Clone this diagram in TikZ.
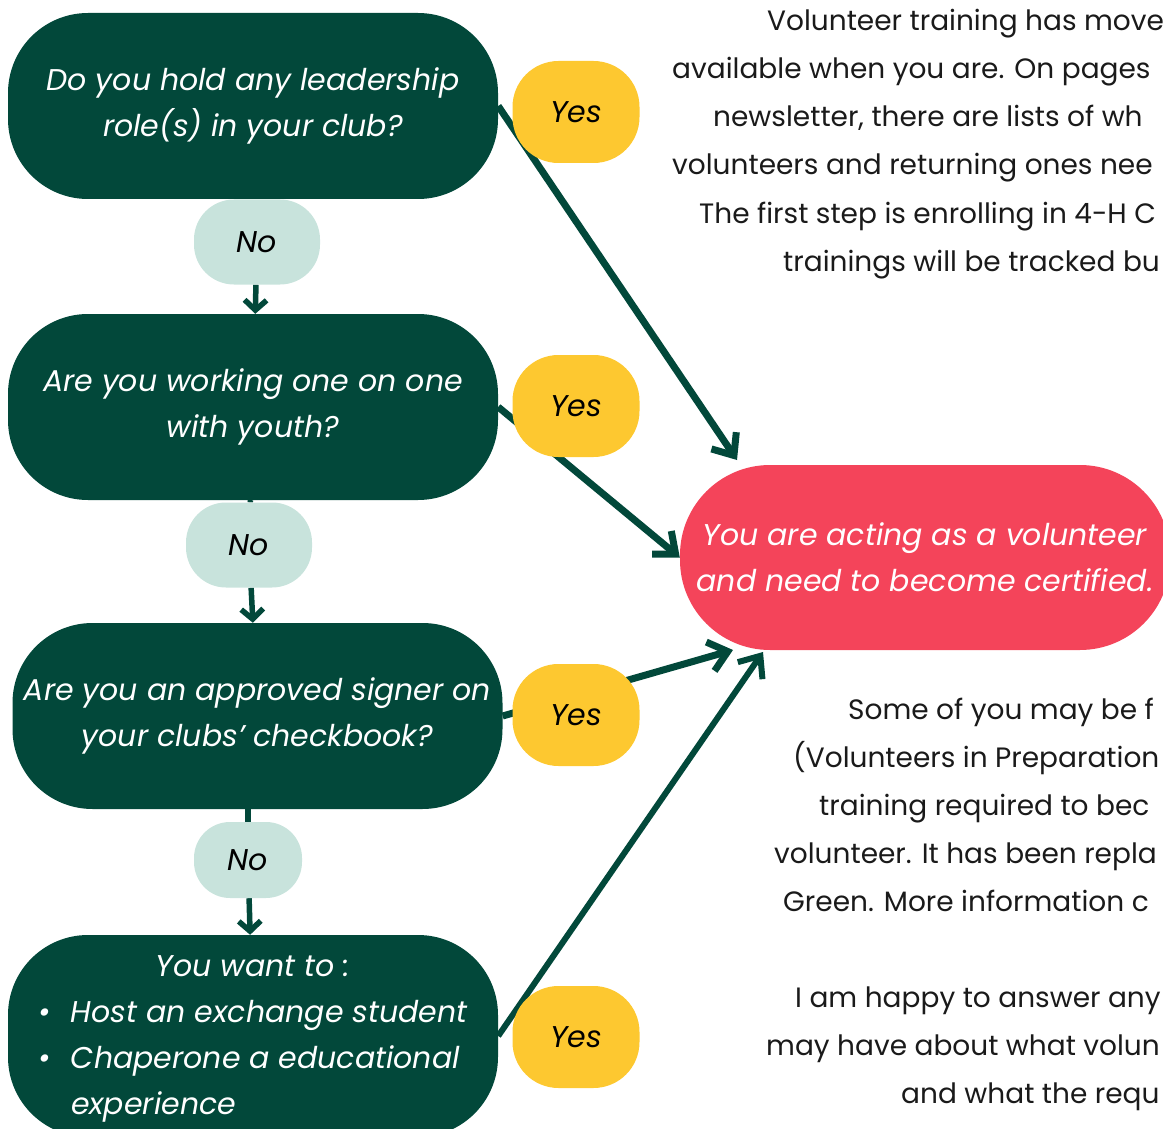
\documentclass[tikz,border=0pt]{standalone}
\usepackage{fontspec}
\setmainfont{Poppins}
\usetikzlibrary{positioning,arrows.meta,backgrounds}
\definecolor{forest}{HTML}{02483A}
\definecolor{sun}{HTML}{FDC830}
\definecolor{mint}{HTML}{C8E3DC}
\definecolor{coral}{HTML}{F4445A}
\definecolor{ink}{HTML}{1A1A1A}

\begin{document}
\begin{tikzpicture}[x=1pt,y=-1pt]
        \tikzstyle{every node}=[font=\fontsize{30}{46}\selectfont\itshape, inner sep=0pt]
        \tikzstyle{question}=[fill=forest, text=white, rounded corners=80pt, minimum width=490pt, minimum height=186pt, align=center]
        \tikzstyle{yes}=[fill=sun, text=black, rounded corners=46pt, minimum width=127pt, minimum height=102pt]
        \tikzstyle{no}=[fill=mint, text=black, rounded corners=40pt, minimum width=126pt, minimum height=85pt]
        \tikzstyle{result}=[fill=coral, text=white, rounded corners=90pt, minimum width=490pt, minimum height=185pt, align=center]
        \tikzstyle{body}=[font=\fontsize{28}{48}\selectfont, text=ink, anchor=base west]
        \tikzstyle{link}=[draw=forest, line width=7pt, -{Straight Barb[length=18pt,width=30pt]}]
        \tikzstyle{down}=[draw=forest, line width=5.5pt, -{Straight Barb[length=10pt,width=22pt]}]

        \useasboundingbox (0,0) rectangle (1163,1129);
        \clip (0,0) rectangle (1163,1129);

        % questions
        \node[question] (q1) at (253,106) {Do you hold any leadership\\role(s) in your club?};
        \node[question] (q2) at (253,407) {Are you working one on one\\with youth?};
        \node[question] (q3) at (257.5,716) {Are you an approved signer on\\your clubs’ checkbook?};
        \node[question, minimum height=202pt] (q4) at (253,1036) {\begin{tabular}{@{}l@{\hspace{20pt}}l@{}}
            \multicolumn{2}{c}{You want to :}\\
            \textbullet & Host an exchange student\\
            \textbullet & Chaperone a educational\\
                        & experience
          \end{tabular}};

        % answers
        \node[no] (no1) at (257,242) {No};
        \node[no] (no2) at (249,545) {No};
        \node[no, minimum width=108pt, minimum height=76pt, rounded corners=36pt] (no3) at (248,860) {No};
        \node[yes] (yes1) at (576,112) {Yes};
        \node[yes] (yes2) at (576,406) {Yes};
        \node[yes] (yes3) at (576,715) {Yes};
        \node[yes] (yes4) at (576,1037) {Yes};

        \node[result] (res) at (925,557.5) {You are acting as a volunteer\\and need to become certified.};

        % text on the right
        \foreach \n/\px/\py/\t in {1/767/31/{Volunteer training has move},
                                   2/672/79/{available when you are. On pages},
                                   3/713/127/{newsletter, there are lists of wh},
                                   4/672/175/{volunteers and returning ones nee},
                                   5/699/223/{The first step is enrolling in 4-H C},
                                   6/783/271/{trainings will be tracked bu},
                                   7/848/719/{Some of you may be f},
                                   8/793/767/{(Volunteers in Preparation},
                                   9/819/815/{training required to bec},
                                   10/774/863/{volunteer. It has been repla},
                                   11/783/911/{Green. More information c},
                                   12/795/1007/{I am happy to answer any},
                                   13/766/1055/{may have about what volun},
                                   14/901/1103/{and what the requ}}
            \node[body, name=r\n] at (\px,\py) {\t};

        \coordinate (in1) at (737,460);
        \coordinate (in3) at (733,650);
        \coordinate (in4) at (763,652);

        \begin{scope}[on background layer]
            \draw[link] (q1.east) -- (in1);
            \draw[link] (q2.east) -- (res.west);
            \draw[link] (q3.east) -- (in3);
            \draw[link, line width=6pt] (q4.east) -- (in4);
            \draw[down] (no1) -- (q2);
            \draw[forest, line width=5.5pt] (q2) -- (no2);
            \draw[down] (no2) -- (q3);
            \draw[forest, line width=5.5pt] (no3) -- (no3 |- q3.south);
            \draw[down] (no3) -- (q4);
        \end{scope}

    \end{tikzpicture}
\end{document}
